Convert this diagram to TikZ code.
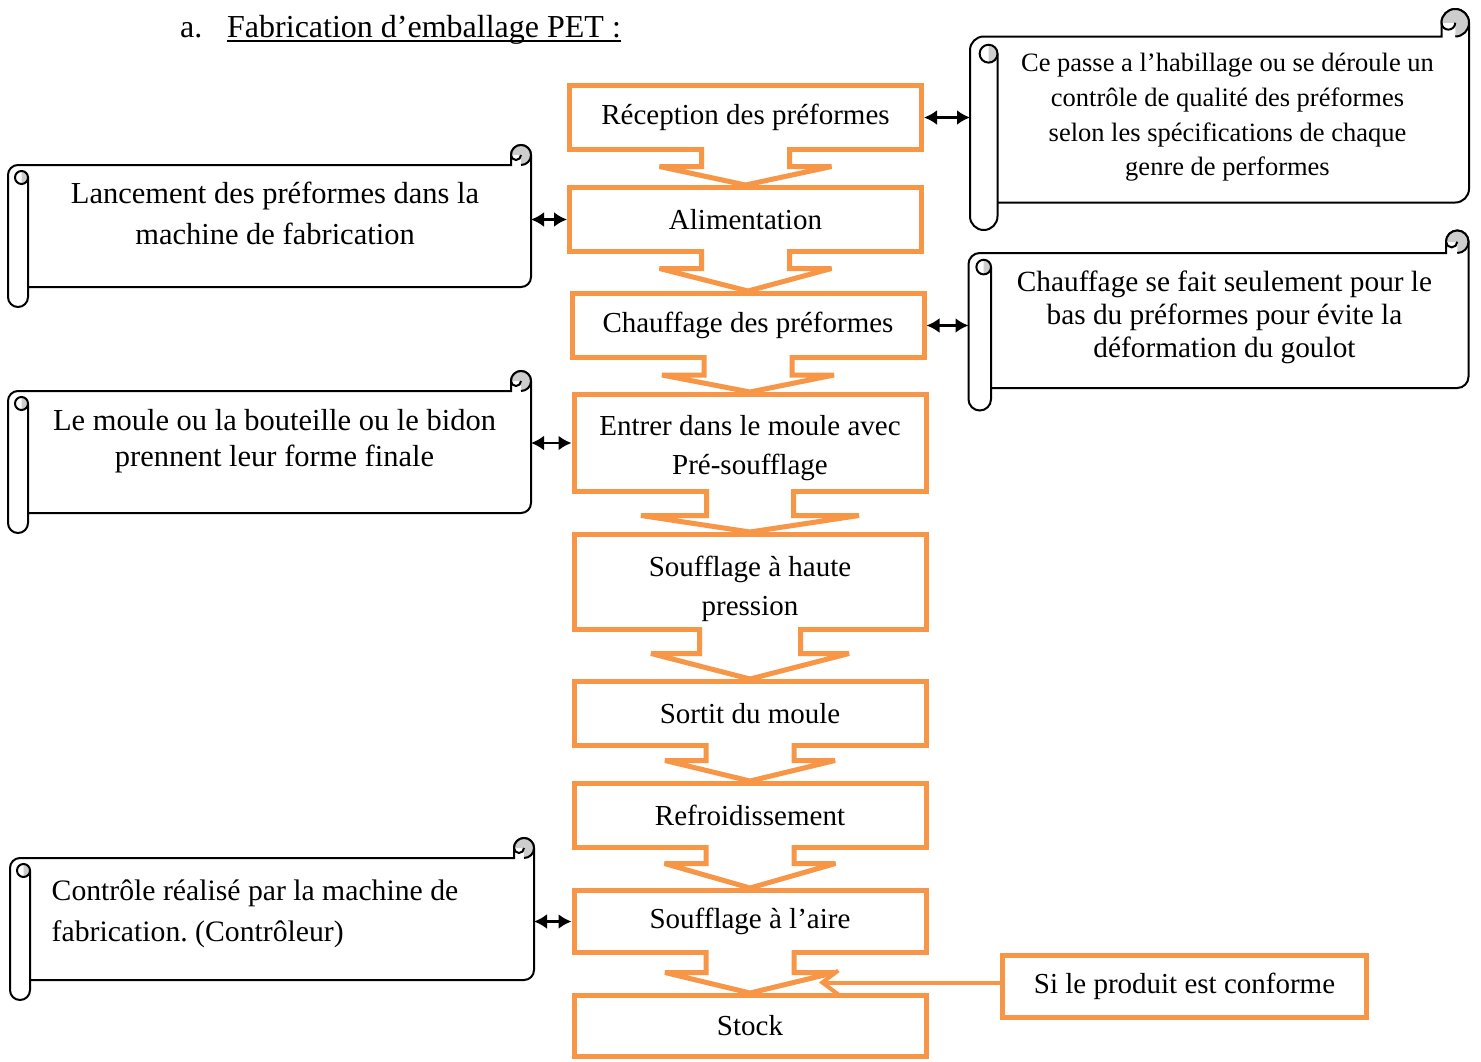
\documentclass[tikz,border=0pt]{standalone}
\usepackage{fontspec}
\setmainfont{Liberation Serif}
\usetikzlibrary{positioning, calc, arrows.meta}
\definecolor{boxorange}{HTML}{F79646}
\definecolor{curlgray}{HTML}{CDCDCD}
\frenchspacing
\tikzset{
   stepbox/.style={draw=boxorange, line width=5pt, fill=white, minimum width=352pt, minimum height=64pt, inner sep=0pt, align=center, font=\fontsize{29}{39}\selectfont},
   chev/.style={draw=boxorange, line width=5pt, fill=white, line join=miter, miter limit=2},
   note/.style={inner sep=0pt, outer sep=0pt},
   scrollline/.style={draw=black, line width=2pt},
   link/.style={{Latex[length=13pt,width=15pt]}-{Latex[length=13pt,width=15pt]}, line width=2.5pt},
   conf/.style={-{Straight Barb[length=16pt,width=24pt]}, draw=boxorange, line width=4pt}
}
\newcommand\notetext[4][c]{\raisebox{#3pt}[\height][\depth]{\hspace*{#2pt}\begin{tabular}{@{}#1@{}}#4\end{tabular}\hspace*{-#2pt}}}
\newcommand\chevron[5]{
   \filldraw[chev] let \p1=(#1.south), \p2=(#2.north) in
      (\x1-#3pt,\y1+5pt) -- (\x1-#3pt,\y1+2.5pt-#5pt) -- (\x1-#4pt,\y1+2.5pt-#5pt) -- (\x2,\y2)
      -- (\x1+#4pt,\y1+2.5pt-#5pt) -- (\x1+#3pt,\y1+2.5pt-#5pt) -- (\x1+#3pt,\y1+5pt);
}
\newcommand\scrollframe[3]{
   \draw[scrollline] ([xshift=#2pt]#1.south west) -- ([xshift=-#3pt]#1.south east)
      arc[start angle=270, end angle=360, radius=#3pt] -- ([yshift=#3pt]#1.north east)
      arc[start angle=0, end angle=180, radius=#3pt] -- ([xshift=-#2pt]#1.north east)
      -- ([xshift=#3pt]#1.north west) arc[start angle=90, end angle=180, radius=#3pt]
      -- ([yshift=#3pt-#2pt]#1.south west) arc[start angle=180, end angle=360, radius=#3pt]
      -- ([xshift=#2pt, yshift=-1.25*#3pt]#1.north west) -- cycle;
   \fill[curlgray] ([xshift=-#2pt, yshift=#3pt]#1.north east) arc[start angle=180, end angle=0, radius=#3pt]
      arc[start angle=0, end angle=-90, radius=#3pt] -- ([xshift=-#3pt, yshift=#3pt]#1.north east) -- cycle;
   \fill[curlgray] ([xshift=1.35*#3pt, yshift=-0.6*#3pt]#1.north west) arc[start angle=90, end angle=-90, radius=0.65*#3pt] -- cycle;
   \draw[scrollline] ([xshift=-#2pt, yshift=#3pt]#1.north east) arc[start angle=180, end angle=0, radius=#3pt]
      arc[start angle=0, end angle=-90, radius=#3pt]
      ([xshift=-#2pt, yshift=#3pt]#1.north east) arc[start angle=180, end angle=360, radius=#3pt/2]
      ([xshift=1.35*#3pt, yshift=-1.25*#3pt]#1.north west) circle[radius=0.65*#3pt];
}

\begin{document}
\begin{tikzpicture}[x=1pt, y=1pt]
   \fill[white] (0,0) rectangle (1481,-1061);
   \node[anchor=base west, inner sep=0pt, font=\fontsize{32}{38}\selectfont] (t_0) at (180,-37) {a.};
   \node[anchor=base west, inner sep=0pt, font=\fontsize{32}{38}\selectfont] (t_1) at (227,-37) {Fabrication d’emballage PET :};
   \draw[line width=1.6pt] ([yshift=-4pt]t_1.base west) -- ([yshift=-4pt]t_1.base east);

   \node[stepbox] (s_1) at (745.5,-117.5) {Réception des préformes};
   \node[stepbox] (s_2)[below=33pt of s_1] {Alimentation};
   \node[stepbox] (s_3)[below=37pt of s_2, xshift=2.5pt] {Chauffage des préformes};
   \node[stepbox, minimum height=97pt] (s_4)[below=32pt of s_3, xshift=2pt] {\notetext{0}{-4}{Entrer dans le moule avec\\Pré-soufflage}};
   \node[stepbox, minimum height=95pt] (s_5)[below=38pt of s_4] {\notetext{0}{-6}{Soufflage à haute\\pression}};
   \node[stepbox] (s_6)[below=47pt of s_5] {Sortit du moule};
   \node[stepbox] (s_7)[below=33pt of s_6] {Refroidissement};
   \node[stepbox, minimum height=62pt] (s_8)[below=38pt of s_7] {Soufflage à l’aire};
   \node[stepbox, minimum height=61pt] (s_9)[below=38pt of s_8] {Stock};
   \node[stepbox, minimum width=364pt, minimum height=62pt] (c_1)[right=71.5pt of s_9, yshift=39.5pt] {Si le produit est conforme};

   \node[note, minimum width=499pt, minimum height=166pt, font=\fontsize{26.5}{34.7}\selectfont] (n_1)[right=46pt of s_1, yshift=-2pt]
      {\notetext{8}{2.5}{Ce passe a l’habillage ou se déroule un\\contrôle de qualité des préformes\\selon les spécifications de chaque\\genre de performes}};
   \node[note, minimum width=523pt, minimum height=122pt, font=\fontsize{30.5}{41}\selectfont] (n_2)[left=36pt of s_2, yshift=-6.5pt]
      {\notetext{5.5}{10}{Lancement des préformes dans la\\machine de fabrication}};
   \node[note, minimum width=500pt, minimum height=135pt, font=\fontsize{29.3}{33}\selectfont] (n_3)[right=42pt of s_3, yshift=5pt]
      {\notetext{6}{2.5}{Chauffage se fait seulement pour le\\bas du préformes pour évite la\\déformation du goulot}};
   \node[note, minimum width=523pt, minimum height=122pt, font=\fontsize{30.5}{36}\selectfont] (n_4)[left=40.5pt of s_4, yshift=-9pt]
      {\notetext{5}{11}{Le moule ou la bouteille ou le bidon\\prennent leur forme finale}};
   \node[note, minimum width=524pt, minimum height=122pt, font=\fontsize{29.7}{41}\selectfont] (n_5)[left=37.5pt of s_8, yshift=2.5pt]
      {\notetext[l]{-17}{6}{Contrôle réalisé par la machine de\\fabrication. (Contrôleur)}};

   \chevron{s_1}{s_2}{44}{86}{17}
   \chevron{s_2}{s_3}{44}{86}{17}
   \chevron{s_3}{s_4}{44}{86}{17.5}
   \chevron{s_4}{s_5}{43.5}{109}{24}
   \chevron{s_5}{s_6}{50.5}{99}{24}
   \chevron{s_6}{s_7}{44}{85}{15}
   \chevron{s_7}{s_8}{44}{85.5}{16}
   \chevron{s_8}{s_9}{44}{85}{20}

   \scrollframe{n_1}{27.5}{13.75}
   \scrollframe{n_2}{20}{10}
   \scrollframe{n_3}{22.5}{11.25}
   \scrollframe{n_4}{20}{10}
   \scrollframe{n_5}{20}{10}

   \draw[link] (s_1.east) -- (s_1.east -| n_1.west);
   \draw[link] (n_2.east |- s_2) -- (s_2.west);
   \draw[link] (s_3.east) -- (s_3.east -| n_3.west);
   \draw[link] (n_4.east |- s_4) -- (s_4.west);
   \draw[link] (n_5.east |- s_8) -- (s_8.west);

   \coordinate (k) at (819,-982.5);
   \draw[conf] (c_1.west |- k) -- (k);
\end{tikzpicture}
\end{document}
